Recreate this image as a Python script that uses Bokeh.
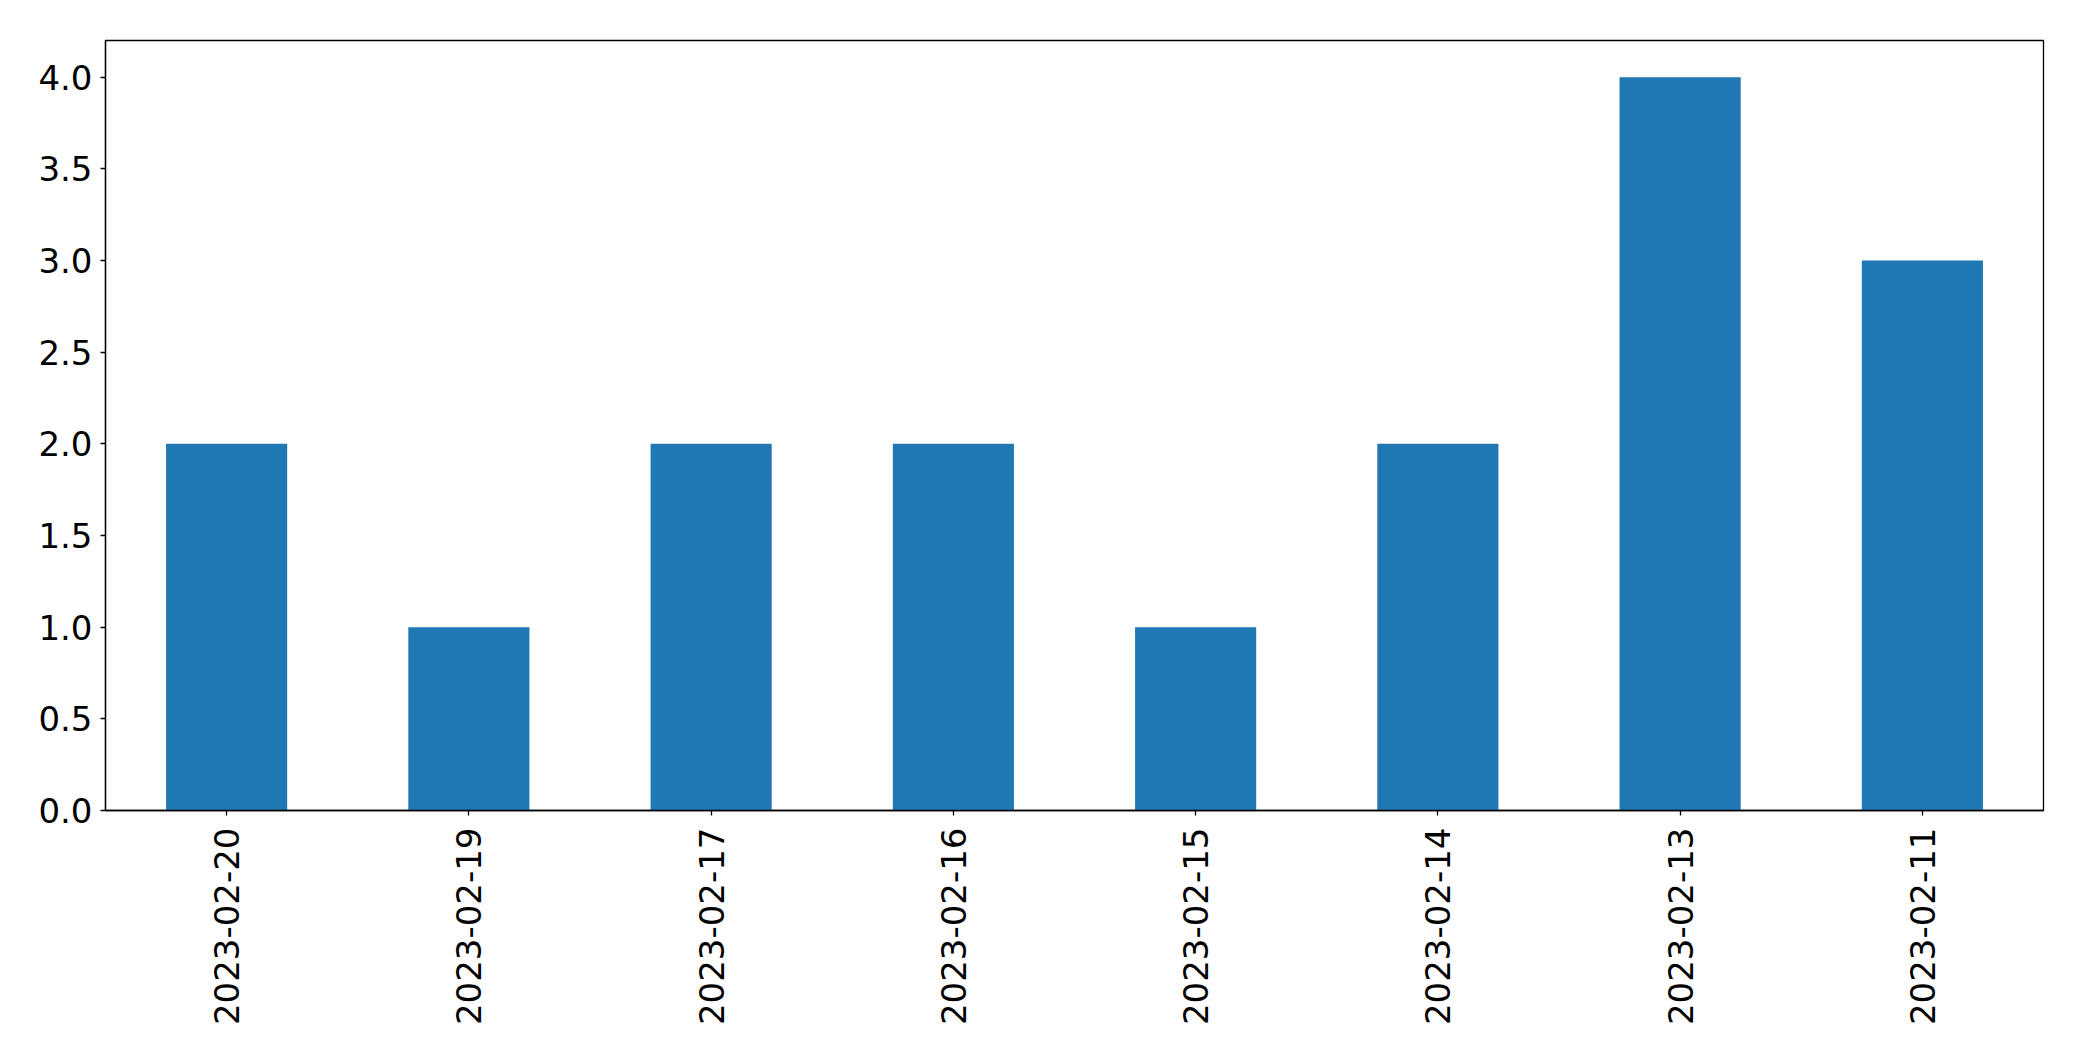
import math
from bokeh.plotting import figure
from bokeh.models import FactorRange, Range1d, FixedTicker, NumeralTickFormatter, ColumnDataSource
from bokeh.embed import file_html
from bokeh.resources import INLINE

dates = ["2023-02-20", "2023-02-19", "2023-02-17", "2023-02-16",
         "2023-02-15", "2023-02-14", "2023-02-13", "2023-02-11"]
counts = [2, 1, 2, 2, 1, 2, 4, 3]
y_ticks = [0.0, 0.5, 1.0, 1.5, 2.0, 2.5, 3.0, 3.5, 4.0]

source = ColumnDataSource(data=dict(dates=dates, counts=counts))

p = figure(frame_width=1938, frame_height=770, output_backend="svg", toolbar_location=None,
           x_range=FactorRange(factors=dates, range_padding=0),
           y_range=Range1d(0, 4.2),
           min_border_left=105, min_border_top=40, min_border_right=20, min_border_bottom=20)

p.vbar(x="dates", top="counts", width=0.5, source=source,
       fill_color="#1f77b4", line_color=None)

p.xgrid.visible = False
p.ygrid.visible = False
p.outline_line_color = "black"
p.outline_line_width = 1.3
p.background_fill_color = "white"
p.border_fill_color = "white"

for ax in (p.xaxis[0], p.yaxis[0]):
    ax.axis_line_color = "black"
    ax.axis_line_width = 1.3
    ax.major_tick_line_color = "black"
    ax.major_tick_line_width = 1.3
    ax.major_tick_out = 5
    ax.major_tick_in = 0
    ax.minor_tick_line_color = None
    ax.major_label_text_font = "DejaVu Sans"
    ax.major_label_text_font_size = "34px"
    ax.major_label_text_color = "black"

p.yaxis[0].ticker = FixedTicker(ticks=y_ticks)
p.yaxis[0].formatter = NumeralTickFormatter(format="0.0")
p.yaxis[0].major_label_standoff = 8
p.xaxis[0].major_label_orientation = math.pi / 2
p.xaxis[0].major_label_standoff = 12

open("out.html", "w").write(file_html(p, INLINE))
